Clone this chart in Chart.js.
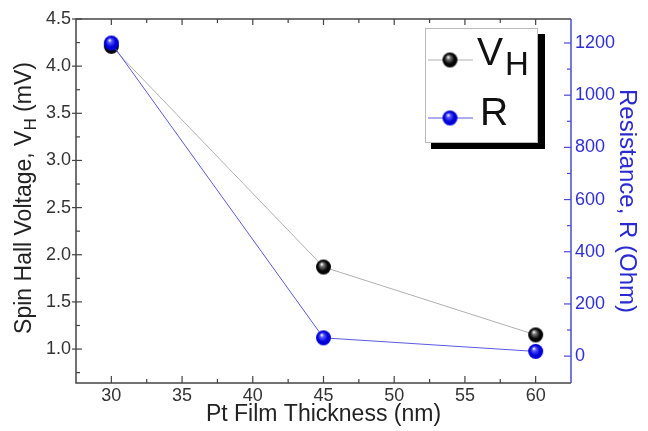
<!DOCTYPE html>
<html>
<head>
<meta charset="utf-8">
<script src="https://cdn.jsdelivr.net/npm/chart.js@4"></script>
<style>
  html, body { margin: 0; padding: 0; background: #fff; }
  #wrap { width: 648px; height: 431px; }
</style>
</head>
<body>
<div id="wrap"><canvas id="spin-chart" width="648" height="431"></canvas></div>
<script>
// values
const thickness = [30, 45, 60];
const voltage = [4.21, 1.87, 1.15];
const resistance = [1200, 70, 18];

const xTicks = [30, 35, 40, 45, 50, 55, 60];
const vTicks = [1.0, 1.5, 2.0, 2.5, 3.0, 3.5, 4.0, 4.5];
const rTicks = [0, 200, 400, 600, 800, 1000, 1200];

const FONT = '"Liberation Sans", Arial, sans-serif';
const AXIS = '#444';
const BLUE_AXIS = '#4a4ad6';

function ball(dark, mid, r) {
    const c = document.createElement('canvas');
    c.width = c.height = 2 * r + 2;
    const g = c.getContext('2d');
    const grad = g.createRadialGradient(r * 0.75 + 1, r * 0.6 + 1, r * 0.05, r + 1, r + 1, r);
    grad.addColorStop(0, '#ffffff');
    grad.addColorStop(0.22, mid);
    grad.addColorStop(0.65, dark);
    grad.addColorStop(1, dark);
    g.fillStyle = grad;
    g.beginPath();
    g.arc(r + 1, r + 1, r, 0, Math.PI * 2);
    g.fill();
    return c;
}
const blackBall = ball('#050505', '#777', 7.5);
const blueBall = ball('#0000d8', '#5a5aff', 7.5);

// rich text: parts of [text, size, shift], drawn centred at (x, y) with rotation
function drawRich(ctx, parts, x, y, angle, color) {
    ctx.save();
    ctx.translate(x, y);
    ctx.rotate(angle);
    ctx.fillStyle = color;
    ctx.textBaseline = 'alphabetic';
    ctx.textAlign = 'left';
    let total = 0;
    parts.forEach(p => { ctx.font = p[1] + 'px ' + FONT; total += ctx.measureText(p[0]).width; });
    let cx = -total / 2;
    parts.forEach(p => {
        ctx.font = p[1] + 'px ' + FONT;
        ctx.fillText(p[0], cx, p[2]);
        cx += ctx.measureText(p[0]).width;
    });
    ctx.restore();
}

const framePlugin = {
    id: 'frame',
    afterDatasetsDraw(chart) {
        const ctx = chart.ctx;
        const a = chart.chartArea;
        const sx = chart.scales.x, sv = chart.scales.y, sr = chart.scales.y2;
        ctx.save();
        ctx.lineWidth = 1.5;
        // frame
        ctx.strokeStyle = AXIS;
        ctx.beginPath();
        ctx.moveTo(a.right, a.top); ctx.lineTo(a.left, a.top);
        ctx.lineTo(a.left, a.bottom); ctx.lineTo(a.right, a.bottom);
        ctx.stroke();
        ctx.lineWidth = 1.2;
        // x ticks, bottom and top, pointing inward
        xTicks.forEach(v => {
            const px = sx.getPixelForValue(v);
            ctx.beginPath();
            ctx.moveTo(px, a.bottom); ctx.lineTo(px, a.bottom - 7);
            ctx.moveTo(px, a.top); ctx.lineTo(px, a.top + 6);
            ctx.stroke();
            const m = v + 2.5;
            if (m < sx.max) {
                const pm = sx.getPixelForValue(m);
                ctx.beginPath();
                ctx.moveTo(pm, a.bottom); ctx.lineTo(pm, a.bottom - 4);
                ctx.moveTo(pm, a.top); ctx.lineTo(pm, a.top + 4);
                ctx.stroke();
            }
        });
        // left ticks
        vTicks.forEach(v => {
            const py = sv.getPixelForValue(v);
            ctx.beginPath();
            ctx.moveTo(a.left - 4, py); ctx.lineTo(a.left + 6, py);
            ctx.stroke();
            const m = v - 0.25;
            if (m > sv.min) {
                const pm = sv.getPixelForValue(m);
                ctx.beginPath();
                ctx.moveTo(a.left, pm); ctx.lineTo(a.left + 4, pm);
                ctx.stroke();
            }
        });
        // right axis in blue
        ctx.strokeStyle = BLUE_AXIS;
        ctx.lineWidth = 1.5;
        ctx.beginPath();
        ctx.moveTo(a.right, a.top); ctx.lineTo(a.right, a.bottom);
        ctx.stroke();
        ctx.lineWidth = 1.2;
        rTicks.forEach(v => {
            const py = sr.getPixelForValue(v);
            ctx.beginPath();
            ctx.moveTo(a.right, py); ctx.lineTo(a.right - 7, py);
            ctx.stroke();
            const m = v + 100;
            if (m < sr.max) {
                const pm = sr.getPixelForValue(m);
                ctx.beginPath();
                ctx.moveTo(a.right, pm); ctx.lineTo(a.right - 4, pm);
                ctx.stroke();
            }
        });
        ctx.restore();
    },
    afterDraw(chart) {
        const ctx = chart.ctx;
        const a = chart.chartArea;
        // axis titles
        drawRich(ctx, [['Spin Hall Voltage, V', 23, 0], ['H', 17, 5], [' (mV)', 23, 0]],
            31, 198, -Math.PI / 2, '#222');
        drawRich(ctx, [['Resistance, R (Ohm)', 24, 0]],
            620, 201, Math.PI / 2, '#2a2ad0');
        drawRich(ctx, [['Pt Film Thickness (nm)', 23, 0]],
            (a.left + a.right) / 2, 421, 0, '#222');

        // legend box with drop shadow
        ctx.save();
        ctx.fillStyle = '#000';
        ctx.fillRect(431, 34, 114, 115);
        ctx.fillStyle = '#fff';
        ctx.fillRect(425, 28, 113, 115);
        ctx.strokeStyle = '#bbb';
        ctx.lineWidth = 1;
        ctx.strokeRect(425.5, 28.5, 112, 114);
        ctx.lineWidth = 1;
        ctx.strokeStyle = '#b0b0b0';
        ctx.beginPath(); ctx.moveTo(428, 60); ctx.lineTo(473, 60); ctx.stroke();
        ctx.strokeStyle = '#5a5ae0';
        ctx.beginPath(); ctx.moveTo(428, 118); ctx.lineTo(473, 118); ctx.stroke();
        ctx.drawImage(blackBall, 450 - blackBall.width / 2, 60 - blackBall.height / 2);
        ctx.drawImage(blueBall, 450 - blueBall.width / 2, 118 - blueBall.height / 2);
        ctx.fillStyle = '#111';
        ctx.textAlign = 'left';
        ctx.textBaseline = 'alphabetic';
        ctx.font = '39px ' + FONT;
        ctx.fillText('V', 477, 65);
        ctx.font = '33px ' + FONT;
        ctx.fillText('H', 505, 75);
        ctx.font = '39px ' + FONT;
        ctx.fillText('R', 480, 125);
        ctx.restore();
    }
};

new Chart(document.getElementById('spin-chart'), {
    type: 'line',
    data: {
        datasets: [
            {
                label: 'R',
                data: thickness.map((t, i) => ({ x: t, y: resistance[i] })),
                yAxisID: 'y2',
                borderColor: '#5a5ae0',
                borderWidth: 1,
                pointStyle: blueBall,
                pointRadius: 7,
                tension: 0,
                fill: false,
            },
            {
                label: 'VH',
                data: thickness.map((t, i) => ({ x: t, y: voltage[i] })),
                yAxisID: 'y',
                borderColor: '#b0b0b0',
                borderWidth: 1,
                pointStyle: blackBall,
                pointRadius: 7,
                tension: 0,
                fill: false,
            },
        ],
    },
    options: {
        responsive: false,
        animation: false,
        events: [],
        layout: { padding: { top: 19, left: 0, right: 0, bottom: 0 } },
        plugins: { legend: { display: false }, tooltip: { enabled: false } },
        scales: {
            x: {
                type: 'linear',
                min: 27.5,
                max: 62.5,
                afterBuildTicks: s => { s.ticks = xTicks.map(v => ({ value: v })); },
                afterFit: s => { s.height = 48; },
                grid: { display: false, drawTicks: false },
                border: { display: false },
                ticks: { color: '#333', font: { family: FONT, size: 18 }, padding: 2, maxRotation: 0 },
            },
            y: {
                type: 'linear',
                position: 'left',
                min: 0.64,
                max: 4.5,
                afterBuildTicks: s => { s.ticks = vTicks.map(v => ({ value: v })); },
                afterFit: s => { s.width = 76; },
                grid: { display: false, drawTicks: false },
                border: { display: false },
                ticks: { color: '#333', font: { family: FONT, size: 18 }, padding: 5, callback: v => v.toFixed(1) },
            },
            y2: {
                type: 'linear',
                position: 'right',
                min: -103,
                max: 1292,
                afterBuildTicks: s => { s.ticks = rTicks.map(v => ({ value: v })); },
                afterFit: s => { s.width = 77; },
                grid: { display: false, drawTicks: false },
                border: { display: false },
                ticks: { color: '#3030d0', font: { family: FONT, size: 18 }, padding: 4, callback: v => String(v) },
            },
        },
    },
    plugins: [framePlugin],
});
</script>
</body>
</html>
